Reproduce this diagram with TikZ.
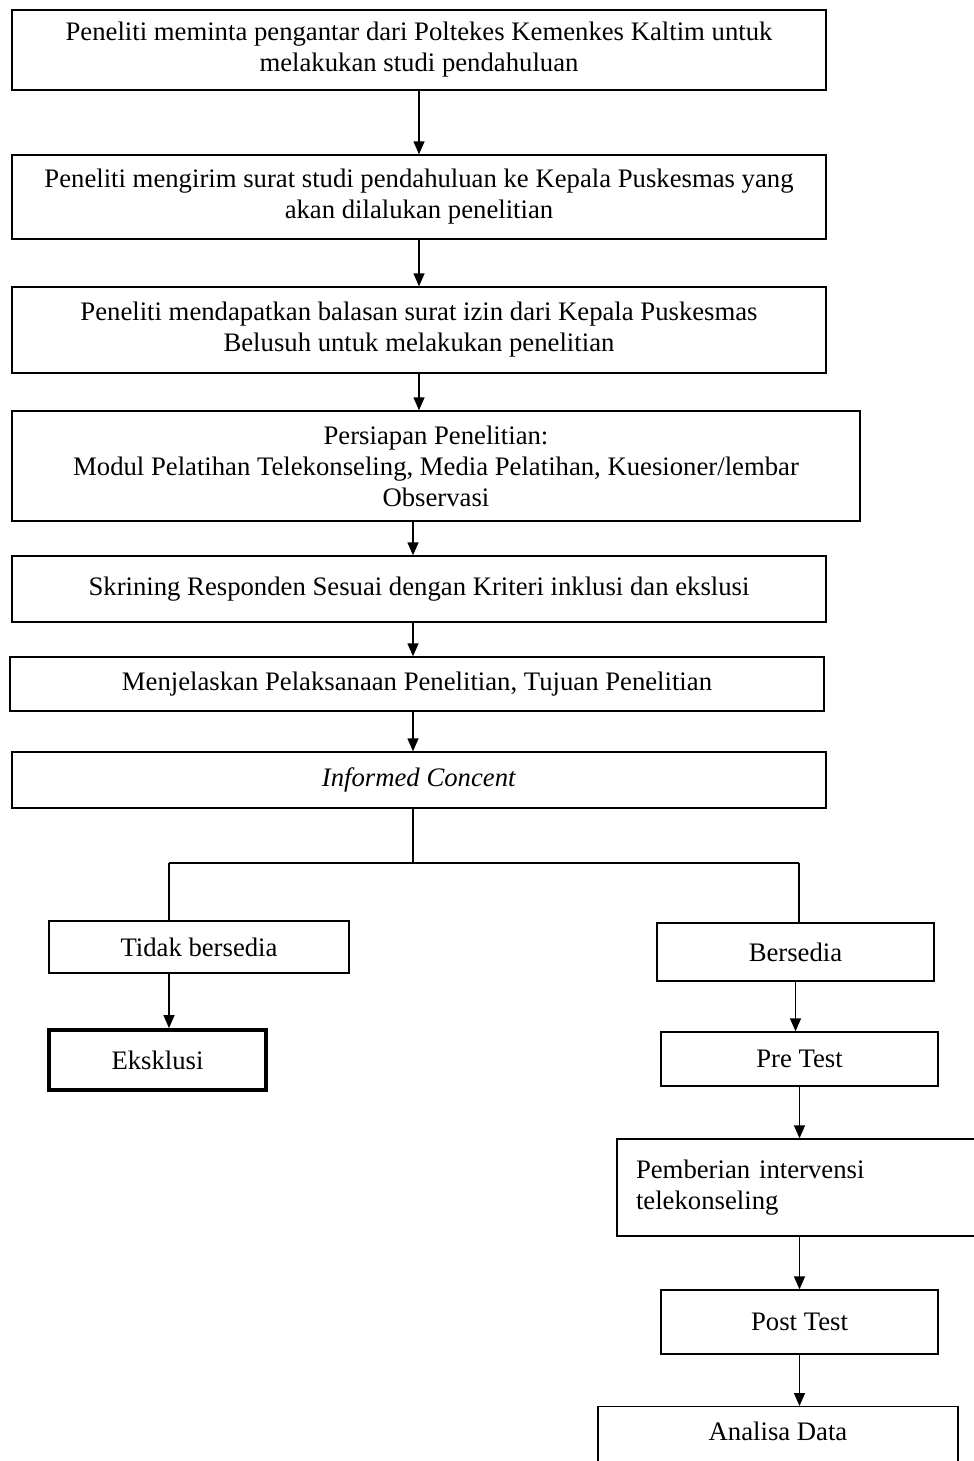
\documentclass[tikz,border=0pt]{standalone}
\usepackage{fontspec}
\setmainfont{Liberation Serif}
\usetikzlibrary{arrows.meta,positioning,calc}
\tikzset{
  >={Triangle[length=2.6mm,width=2.2mm]},
  box/.style={draw=black,line width=0.8pt,inner sep=2pt,align=center,font=\fontsize{15.2}{17.6}\selectfont},
  wbox/.style={box,minimum width=16.28cm},
  sbox/.style={box,minimum width=5.54cm},
  xbox/.style={box,line width=2.2pt},
  arr/.style={->,draw=black,line width=0.8pt},
  conn/.style={draw=black,line width=0.8pt},
}
\begin{document}
\begin{tikzpicture}[x=0.02cm,y=-0.02cm]
\useasboundingbox (0,0) rectangle (974,1461);
\clip (0,0) rectangle (974,1461);
% main column
\node[wbox,minimum height=1.6cm] (pengantar) at (419,50) {Peneliti meminta pengantar dari Poltekes Kemenkes Kaltim untuk\\melakukan studi pendahuluan};
\node[wbox,minimum height=1.68cm] (surat) at (419,197) {Peneliti mengirim surat studi pendahuluan ke Kepala Puskesmas yang\\akan dilalukan penelitian};
\node[wbox,minimum height=1.72cm] (izin) at (419,330) {Peneliti mendapatkan balasan surat izin dari Kepala Puskesmas\\Belusuh untuk melakukan penelitian};
\node[box,minimum width=16.96cm,minimum height=2.2cm] (persiapan) at (436,466) {Persiapan Penelitian:\\Modul Pelatihan Telekonseling, Media Pelatihan, Kuesioner/lembar\\Observasi};
\node[wbox,minimum height=1.32cm] (skrining) at (419,589) {Skrining Responden Sesuai dengan Kriteri inklusi dan ekslusi};
\node[wbox,minimum height=1.08cm] (jelaskan) at (417,684) {Menjelaskan Pelaksanaan Penelitian, Tujuan Penelitian};
\node[wbox,minimum height=1.12cm] (informed) at (419,780) {\textit{Informed Concent}};
% branches
\coordinate (split) at (413,863);
\coordinate (splitL) at (169,863);
\coordinate (splitR) at (799,863);
\node[box,minimum width=6cm,minimum height=1.04cm] (tidak) at (199,947) {Tidak bersedia};
\node[xbox,minimum width=4.34cm,minimum height=1.2cm] (eksklusi) at (157.5,1060) {Eksklusi};
\node[sbox,minimum height=1.16cm] (bersedia) at (795.5,952) {Bersedia};
\node[sbox,minimum height=1.08cm] (pretest) at (799.5,1059) {Pre Test};
\node[box,minimum width=7.46cm,minimum height=1.94cm,text width=6.7cm,align=left,inner xsep=0.38cm] (pemberian) at (803.5,1187.5) {Pemberian intervensi\\telekonseling};
\node[sbox,minimum height=1.28cm] (posttest) at (799.5,1322) {Post Test};
\node[box,minimum width=7.2cm,anchor=north,inner ysep=0.3cm,text depth=2cm] (analisa) at (778,1406) {Analisa Data};
% connectors
\draw[arr] (pengantar) -- (surat);
\draw[arr] (surat) -- (izin);
\draw[arr] (izin.south) -- (izin.south |- persiapan.north);
\draw[arr] (split |- persiapan.south) -- (split |- skrining.north);
\draw[arr] (split |- skrining.south) -- (split |- jelaskan.north);
\draw[arr] (split |- jelaskan.south) -- (split |- informed.north);
\draw[conn] (split |- informed.south) -- (split);
\draw[conn] (splitL) -- (splitR);
\draw[conn] (splitL) -- (splitL |- tidak.north);
\draw[conn] (splitR) -- (splitR |- bersedia.north);
\draw[arr] (splitL |- tidak.south) -- (splitL |- eksklusi.north);
\draw[arr] (bersedia.south) -- (bersedia.south |- pretest.north);
\draw[arr] (pretest.south) -- (pretest.south |- pemberian.north);
\draw[arr] (posttest.north |- pemberian.south) -- (posttest.north);
\draw[arr] (posttest.south) -- (posttest.south |- analisa.north);
\end{tikzpicture}
\end{document}
